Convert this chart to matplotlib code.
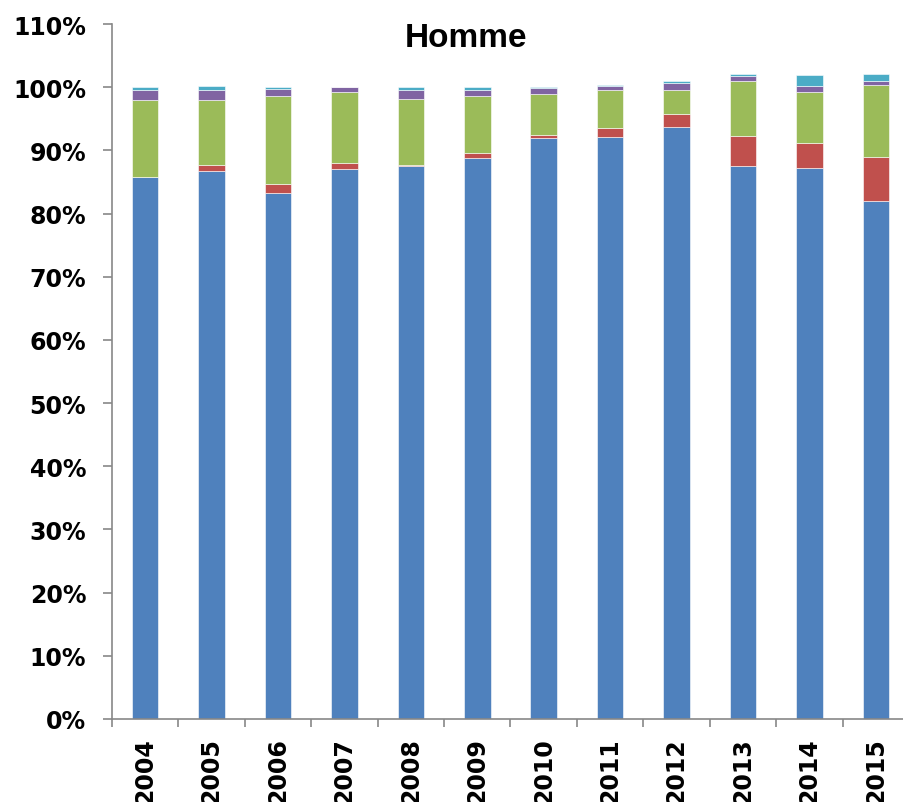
import matplotlib
matplotlib.use("Agg")
import matplotlib.pyplot as plt
import numpy as np

years = ["2004", "2005", "2006", "2007", "2008", "2009", "2010", "2011", "2012", "2013", "2014", "2015"]
blue = [85.75, 86.8, 83.2, 87.0, 87.5, 88.8, 92.0, 92.1, 93.7, 87.55, 87.2, 82.0]
red = [0.0, 0.9, 1.4, 1.0, 0.25, 0.75, 0.5, 1.5, 2.0, 4.65, 3.9, 7.0]
green = [12.25, 10.3, 14.0, 11.3, 10.35, 9.05, 6.4, 5.9, 3.9, 8.8, 8.2, 11.4]
purple = [1.6, 1.6, 1.1, 0.65, 1.5, 1.0, 0.9, 0.75, 1.0, 0.75, 0.95, 0.65]
cyan = [0.4, 0.6, 0.3, 0.1, 0.5, 0.4, 0.3, 0.1, 0.3, 0.3, 1.7, 1.05]

series = [blue, red, green, purple, cyan]
colors = ["#4F81BD", "#C0504D", "#9BBB59", "#8064A2", "#4BACC6"]

plt.rcParams['font.family'] = ['DejaVu Sans']

fig = plt.figure(figsize=(9.04, 8.03), dpi=100)
ax = fig.add_axes([112/904, 1-720/803, 797/904, (720-25)/803])

x = np.arange(len(years))
bottom = np.zeros(len(years))
for vals, c in zip(series, colors):
    v = np.array(vals)
    ax.bar(x, v, width=0.4, bottom=bottom, color=c, edgecolor='white', linewidth=0.4)
    bottom += v

ax.set_xlim(-0.5, len(years) - 0.5)
ax.set_ylim(0, 110)
ax.set_yticks(np.arange(0, 111, 10))
ax.set_yticklabels([f"{t}%" for t in range(0, 111, 10)], fontsize=17, fontweight='bold')
ax.set_xticks(x)
ax.set_xticklabels(years, rotation=90, fontsize=17, fontweight='bold')
ax.set_xticks(np.arange(-0.5, len(years), 1), minor=True)
ax.tick_params(axis='x', which='major', length=0, pad=13)
ax.tick_params(axis='x', which='minor', length=6, color='#888888', width=1.2, direction='out')
ax.tick_params(axis='y', length=6.5, color='#888888', width=1.2, direction='out', pad=12)

for s in ['top', 'right']:
    ax.spines[s].set_visible(False)
for s in ['left', 'bottom']:
    ax.spines[s].set_color('#888888')
    ax.spines[s].set_linewidth(1.2)

fig.text(466/904, 1-47/803, "Homme", ha='center', va='baseline', fontsize=24,
         fontweight='bold', family=['Liberation Sans', 'DejaVu Sans'])

fig.savefig("out.png", dpi=100)
